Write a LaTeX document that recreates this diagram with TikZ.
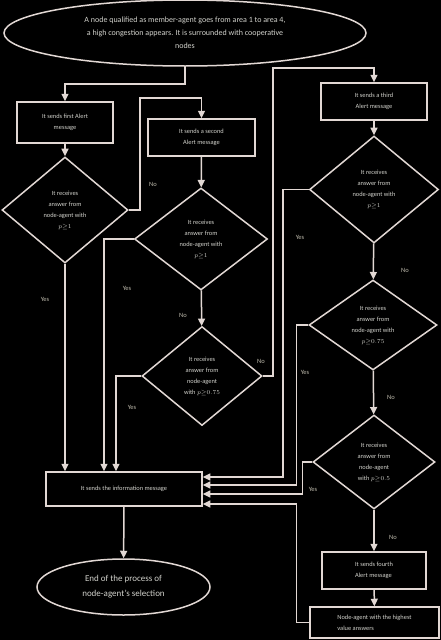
\documentclass[tikz,border=0pt]{standalone}
\usepackage{fontspec}
\setmainfont{Carlito}
\usepackage{tikz}
\usepackage{xcolor}
\usetikzlibrary{
    arrows.meta,
    shapes,
    calc,
    positioning
}
\definecolor{edgegray}{RGB}{226,216,212}
\definecolor{textgray}{RGB}{210,210,204}
\definecolor{labgray}{RGB}{190,186,172}

\begin{document}
\begin{tikzpicture}[x=1pt,y=-1pt,
    every node/.style={text=textgray,font=\fontsize{6.4}{11}\selectfont},
    box/.style={draw=edgegray,line width=1.5pt,rectangle,inner sep=0pt,align=center},
    dec/.style={draw=edgegray,line width=1.5pt,diamond,inner sep=0pt,align=center},
    oval/.style={draw=edgegray,line width=1.5pt,ellipse,inner sep=0pt,align=center},
    arr/.style={draw=edgegray,line width=1.5pt,-{Triangle[width=7pt,length=7.5pt]}},
    lab/.style={text=labgray,font=\fontsize{6.5}{8}\selectfont}
]
    \fill[black] (0,0) rectangle (441,640);
    \useasboundingbox (0,0) rectangle (441,640);

    % start and end
    \node[oval,minimum width=362,minimum height=66,font=\fontsize{8}{13}\selectfont] (start) at (185,33)
        {A node qualified as member-agent goes from area 1 to area 4,\\a high congestion appears. It is surrounded with cooperative\\nodes};
    \node[oval,minimum width=173,minimum height=56,font=\fontsize{9}{15}\selectfont] (finish) at (123.5,587)
        {End of the process of\\node-agent’s selection};

    % alert messages
    \node[box,minimum width=96,minimum height=41] (first) at (65,122.5) {It sends first Alert\\message};
    \node[box,minimum width=107,minimum height=37] (second) at (201.5,137.5) {It sends a second\\Alert message};
    \node[box,minimum width=106,minimum height=37] (third) at (374,101.5) {It sends a third\\Alert message};
    \node[box,minimum width=104,minimum height=37,align=left] (fourth) at (374,570.5) {It sends fourth\\Alert message};
    \node[box,minimum width=156,minimum height=34] (info) at (124,489) {It sends the information message};
    \node[box,minimum width=129,minimum height=31,align=left] (highest) at (374.5,622.5) {Node-agent with the highest\\value answers};

    % answers
    \node[dec,minimum width=126,minimum height=106] (ansA) at (65,210) {It receives\\answer from\\node-agent with\\$p{\geq}1$};
    \node[dec,minimum width=133,minimum height=102] (ansB) at (201,239) {It receives\\answer from\\node-agent with\\$p{\geq}1$};
    \node[dec,minimum width=120,minimum height=99] (ansC) at (202,376) {It receives\\answer from\\node-agent\\with $p{\geq}0.75$};
    \node[dec,minimum width=129,minimum height=107] (ansD) at (374,189.5) {It receives\\answer from\\node-agent with\\$p{\geq}1$};
    \node[dec,minimum width=128,minimum height=90] (ansE) at (373,325) {It receives\\answer from\\node-agent with\\$p{\geq}0.75$};
    \node[dec,minimum width=122,minimum height=94] (ansF) at (374,462) {It receives\\answer from\\node-agent\\with $p{\geq}0.5$};

    % connectors
    \draw[arr] (start.south) -- ++(0,17) -| (first.north);
    \draw[arr] (first) -- (ansA);
    \draw[arr] (ansA.east) -| (140,98) -| (second.north);
    \draw[arr] (ansA.south) -- (ansA.south |- info.north);
    \draw[arr] (second) -- (ansB);
    \draw[arr] (ansB.west) -| ([xshift=-20]info.north);
    \draw[arr] (ansB) -- (ansC);
    \draw[arr] (ansC.west) -| ([xshift=-8]info.north);
    \draw[arr] (ansC.east) -| (273,68) -| (third.north);
    \draw[arr] (third) -- (ansD);
    \draw[arr] (ansD.west) -- ++(-26,0) |- ([yshift=12]info.east);
    \draw[arr] (ansD) -- (ansE);
    \draw[arr] (ansE.west) -- ++(-12,0) |- ([yshift=4]info.east);
    \draw[arr] (ansE) -- (ansF);
    \draw[arr] (ansF.west) -- ++(-10,0) |- ([yshift=-5]info.east);
    \draw[arr] (ansF) -- (fourth);
    \draw[arr] (fourth) -- (highest);
    \draw[arr] (highest.west) -- ++(-13,0) |- ([yshift=-15]info.east);
    \draw[arr] (info) -- (finish);

    % labels
    \node[lab] (noA) at (153,184) {No};
    \node[lab] (yesA) at (45,299) {Yes};
    \node[lab] (yesB) at (127,288) {Yes};
    \node[lab] (noB) at (183,315) {No};
    \node[lab] (yesC) at (132,407) {Yes};
    \node[lab] (noC) at (261,361) {No};
    \node[lab] (yesD) at (300,237) {Yes};
    \node[lab] (noD) at (405,270) {No};
    \node[lab] (yesE) at (305,372) {Yes};
    \node[lab] (noE) at (391,397) {No};
    \node[lab] (yesF) at (313,489) {Yes};
    \node[lab] (noF) at (393,537) {No};
\end{tikzpicture}
\end{document}
